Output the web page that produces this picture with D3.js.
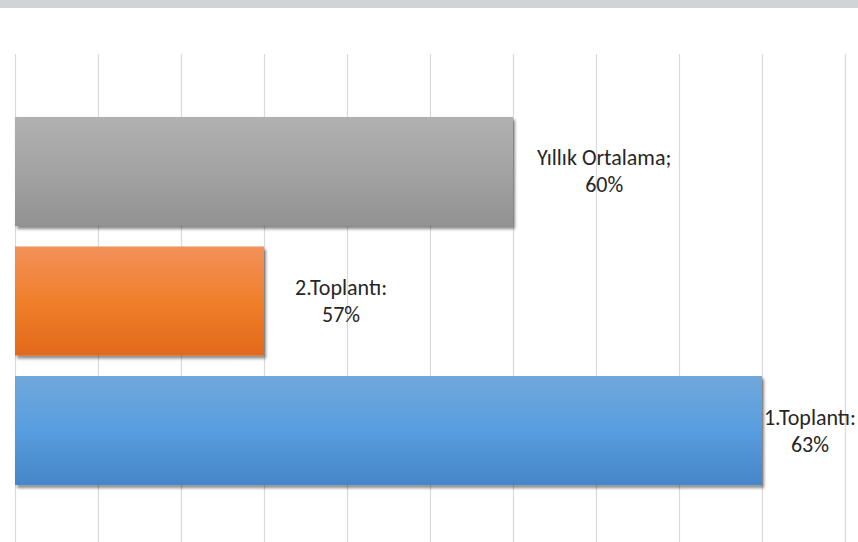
<!DOCTYPE html>
<html>
<head>
<meta charset="utf-8">
<script src="https://cdn.jsdelivr.net/npm/d3@7"></script>
<style>
  body { margin: 0; background: #fff; }
  svg { display: block; }
</style>
</head>
<body>
<script>
// chart values, top to bottom
var categories = ["Yıllık Ortalama", "2.Toplantı", "1.Toplantı"];
var values = [60, 57, 63];
var separators = [";", ":", ":"];
var tickValues = [54, 55, 56, 57, 58, 59, 60, 61, 62, 63, 64];

var width = 858, height = 542;

// gradient stops per bar (top, mid, bottom)
var gradients = [
  ["#b1b1b1", "#a3a3a3", "#929292"],
  ["#f2915a", "#f07f2b", "#e2691a"],
  ["#70a8dc", "#589ddf", "#4686c8"]
];

var svg = d3.select("body").append("svg")
  .attr("width", width)
  .attr("height", height);

var defs = svg.append("defs");

gradients.forEach(function(g, i) {
  var lg = defs.append("linearGradient")
    .attr("id", "grad" + i)
    .attr("x1", 0).attr("y1", 0).attr("x2", 0).attr("y2", 1);
  lg.append("stop").attr("offset", "0%").attr("stop-color", g[0]);
  lg.append("stop").attr("offset", "50%").attr("stop-color", g[1]);
  lg.append("stop").attr("offset", "100%").attr("stop-color", g[2]);
});

var shadow = defs.append("filter").attr("id", "shadow")
  .attr("x", "-5%").attr("y", "-5%").attr("width", "115%").attr("height", "130%");
shadow.append("feDropShadow")
  .attr("dx", 2).attr("dy", 3).attr("stdDeviation", 1.8)
  .attr("flood-color", "#000").attr("flood-opacity", 0.45);

// grey band on top
svg.append("rect")
  .attr("x", 0).attr("y", 0)
  .attr("width", width).attr("height", 8)
  .attr("fill", "#d2d3d5");

var x = d3.scaleLinear().domain([54, 64]).range([15, 845]);
var y = d3.scaleBand().domain(categories).range([54, 548])
  .paddingInner(0.158).paddingOuter(0.486);

// vertical gridlines
var grid = svg.append("g")
  .attr("transform", "translate(0,54)")
  .call(d3.axisBottom(x).tickValues(tickValues).tickSize(height).tickFormat(""));
grid.select(".domain").remove();
grid.selectAll(".tick line").attr("stroke", "#d9d9d9").attr("stroke-width", 1.2);

var data = categories.map(function(c, i) {
  return {name: c, value: values[i], sep: separators[i], i: i};
});

svg.selectAll(".bar")
  .data(data)
  .enter().append("rect")
  .attr("class", "bar")
  .attr("x", x(54))
  .attr("y", function(d) { return y(d.name); })
  .attr("width", function(d) { return x(d.value) - x(54); })
  .attr("height", y.bandwidth())
  .attr("fill", function(d) { return "url(#grad" + d.i + ")"; })
  .attr("filter", "url(#shadow)");

var gaps = [24, 31, 24];

var labels = svg.selectAll(".label")
  .data(data)
  .enter().append("text")
  .attr("class", "label")
  .attr("text-anchor", "middle")
  .style("font-family", "Carlito, Lato, 'Open Sans', sans-serif")
  .style("font-size", "22px")
  .attr("fill", "#262626");

labels.append("tspan")
  .attr("class", "l1")
  .attr("y", function(d) { return y(d.name) + y.bandwidth() / 2 - 6; })
  .text(function(d) { return d.name + d.sep; });
labels.append("tspan")
  .attr("class", "l2")
  .attr("y", function(d) { return y(d.name) + y.bandwidth() / 2 + 21; })
  .text(function(d) { return d.value + "%"; });

labels.each(function(d) {
  var t = d3.select(this);
  var w = 0;
  t.selectAll("tspan").each(function() {
    w = Math.max(w, this.getComputedTextLength());
  });
  var cx = x(d.value) + gaps[d.i] + w / 2;
  cx = Math.min(cx, width - 2 - w / 2);
  t.selectAll("tspan").attr("x", cx);
});
</script>
</body>
</html>
